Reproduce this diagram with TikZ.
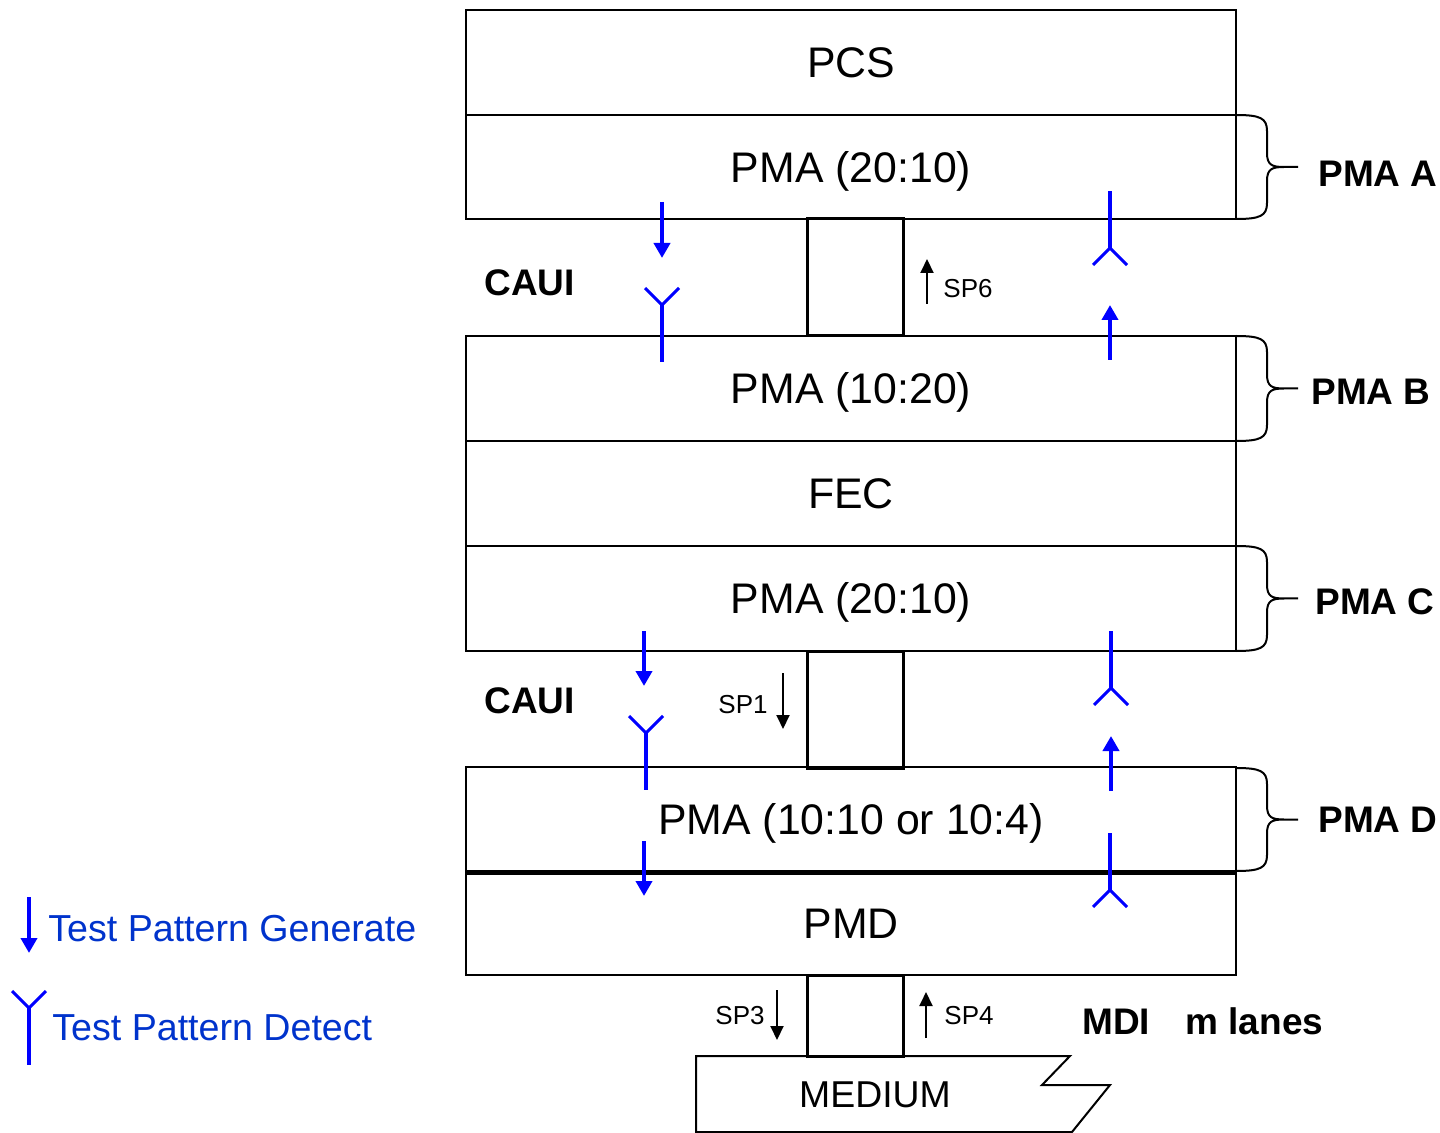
\documentclass[tikz,border=0pt]{standalone}
\usepackage{fontspec}
\setmainfont{Liberation Sans}
\usetikzlibrary{arrows.meta}
\definecolor{symblue}{RGB}{0,0,255}
\definecolor{txtblue}{RGB}{0,51,204}
\begin{document}
\begin{tikzpicture}[x=0.5pt,y=-0.5pt,
  layer/.style={draw,line width=1pt,minimum width=385pt,minimum height=52.25pt,inner sep=0pt,
    font=\fontsize{21.4}{25}\selectfont,text height=15.3pt,text depth=0pt},
  conbox/.style={draw,line width=1.5pt,minimum width=48pt,inner sep=0pt},
  boldlbl/.style={inner sep=0pt,anchor=west,font=\fontsize{18.5}{22}\selectfont\bfseries,text height=13.2pt,text depth=0pt},
  splbl/.style={inner sep=0pt,font=\fontsize{13}{16}\selectfont,text height=9.3pt,text depth=0pt},
  legendlbl/.style={inner sep=0pt,anchor=west,text=txtblue,font=\fontsize{18.8}{22}\selectfont,text height=13.5pt,text depth=0pt},
  gen/.style={draw=symblue,line width=2.2pt,-{Triangle[length=7.5pt,width=8pt]}},
  sparrow/.style={draw=black,line width=1pt,-{Triangle[length=7pt,width=6.5pt]}},
  bracestyle/.style={draw,line width=1pt},
  detect/.pic={\draw[symblue,line width=1.5pt] (-17,-17) -- (0,0) -- (17,-17);
               \draw[symblue,line width=2.2pt] (0,-1) -- (0,57);},
  detectup/.pic={\draw[symblue,line width=1.5pt] (-17,17) -- (0,0) -- (17,17);
               \draw[symblue,line width=2.2pt] (0,1) -- (0,-57);}
]
\useasboundingbox (0,0) rectangle (1440,1133);

% layers
\node[layer] (pcs)  at (851,62.5)  {PCS};
\node[layer] (pmaa) at (851,167)   {PMA (20:10)};
\node[layer] (pmab) at (851,388.5) {PMA (10:20)};
\node[layer] (fec)  at (851,493.5) {FEC};
\node[layer] (pmac) at (851,598.5) {PMA (20:10)};
\node[layer] (pmad) at (851,819.5) {PMA (10:10 or 10:4)};
\node[layer] (pmd)  at (851,923)   {PMD};
\draw[line width=2pt] (pmad.south west) -- (pmad.south east);

% connector boxes
\node[conbox,minimum height=58.5pt] (caui1) at (855,277.5) {};
\node[conbox,minimum height=58.5pt] (caui2) at (855,709.5) {};
\node[conbox,minimum height=40.5pt] (mdibox) at (855,1015.5) {};

% medium
\draw[line width=1pt] (696,1056) -- (1070,1056) -- (1042,1085) -- (1110,1085) -- (1072,1132) -- (696,1132) -- cycle;
\node[inner sep=0pt,font=\fontsize{18.7}{22}\selectfont,text height=13.4pt,text depth=0pt] (medium) at (875,1094) {MEDIUM};

% braces
\foreach \t/\b in {115/219,336/441,546/651,768/871}{
  \pgfmathsetmacro\m{(\t+\b)/2}
  \draw[bracestyle] (1236,\t) .. controls (1260,\t) and (1267,\t+3) .. (1267,\t+16)
     -- (1267,\m-14) .. controls (1267,\m-2) and (1272,\m) .. (1284,\m) -- (1298,\m)
     (1284,\m) .. controls (1272,\m) and (1267,\m+2) .. (1267,\m+14)
     -- (1267,\b-16) .. controls (1267,\b-3) and (1260,\b) .. (1236,\b);
}
\node[boldlbl] (lpmaa) at (1318,173) {PMA A};
\node[boldlbl] (lpmab) at (1311,391) {PMA B};
\node[boldlbl] (lpmac) at (1315,601) {PMA C};
\node[boldlbl] (lpmad) at (1318,819) {PMA D};

\node[boldlbl] (caui1l) at (484,282) {CAUI};
\node[boldlbl] (caui2l) at (484,700) {CAUI};
\node[boldlbl] (mdil) at (1082,1021) {MDI};
\node[boldlbl] (lanes) at (1185,1021) {m lanes};

% SP labels and arrows
\coordinate (sp6a) at (927,304); \coordinate (sp6b) at (927,259);
\draw[sparrow] (sp6a) -- (sp6b);
\node[splbl,anchor=west] (sp6) at (943,288) {SP6};
\coordinate (sp1a) at (783,673); \coordinate (sp1b) at (783,729);
\draw[sparrow] (sp1a) -- (sp1b);
\node[splbl,anchor=east] (sp1) at (768,704) {SP1};
\coordinate (sp3a) at (777,990); \coordinate (sp3b) at (777,1040);
\draw[sparrow] (sp3a) -- (sp3b);
\node[splbl,anchor=east] (sp3) at (765,1015) {SP3};
\coordinate (sp4a) at (926,1038); \coordinate (sp4b) at (926,992);
\draw[sparrow] (sp4a) -- (sp4b);
\node[splbl,anchor=west] (sp4) at (944,1015) {SP4};

% test pattern generate arrows
\draw[gen] (662,202) -- (662,258);
\draw[gen] (1110,360) -- (1110,305);
\draw[gen] (644,631) -- (644,686);
\draw[gen] (1111,791) -- (1111,736);
\draw[gen] (644,841) -- (644,896);

% test pattern detect symbols
\pic at (662,305) {detect};
\pic at (1110,248) {detectup};
\pic at (646,733) {detect};
\pic at (1111,688) {detectup};
\pic at (1110,890) {detectup};

% legend
\draw[gen] (29,897) -- (29,953);
\node[legendlbl] (lgen) at (48,928) {Test Pattern Generate};
\pic at (29,1008) {detect};
\node[legendlbl] (ldet) at (52,1027) {Test Pattern Detect};
\end{tikzpicture}
\end{document}
